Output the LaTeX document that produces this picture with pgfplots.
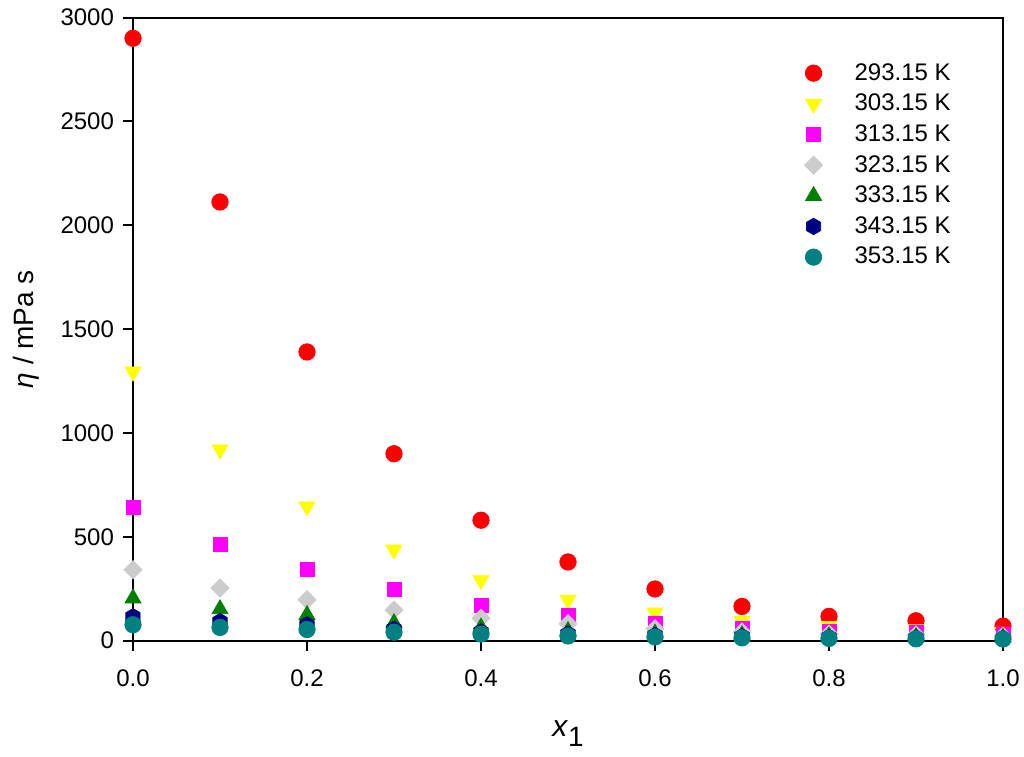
\documentclass[border=0pt]{standalone}
\usepackage{fontspec}
\setmainfont{Liberation Sans}
\usepackage{pgfplots}
\pgfplotsset{compat=1.18}
\definecolor{cgray}{RGB}{204,204,204}
\definecolor{cgreen}{RGB}{0,128,0}
\definecolor{cnavy}{RGB}{0,0,128}
\definecolor{cteal}{RGB}{0,128,128}
\definecolor{cmag}{RGB}{255,0,255}
\definecolor{cyel}{RGB}{255,255,0}
\definecolor{cred}{RGB}{255,0,0}
\pgfdeclareplotmark{hexagon*}{%
  \pgfpathmoveto{\pgfqpointpolar{90}{\pgfplotmarksize}}%
  \pgfpathlineto{\pgfqpointpolar{150}{\pgfplotmarksize}}%
  \pgfpathlineto{\pgfqpointpolar{210}{\pgfplotmarksize}}%
  \pgfpathlineto{\pgfqpointpolar{270}{\pgfplotmarksize}}%
  \pgfpathlineto{\pgfqpointpolar{330}{\pgfplotmarksize}}%
  \pgfpathlineto{\pgfqpointpolar{30}{\pgfplotmarksize}}%
  \pgfpathclose
  \pgfusepathqfillstroke
}
\begin{document}
\begin{tikzpicture}[font=\fontsize{12}{14.4}\selectfont]
\begin{axis}[
  at={(0,0)}, anchor=south west,
  scale only axis, width=435pt, height=311.6pt,
  xmin=0, xmax=1, ymin=0, ymax=3000,
  xtick={0,0.2,0.4,0.6,0.8,1},
  ytick={0,500,1000,1500,2000,2500,3000},
  minor tick num=0,
  scaled ticks=false,
  tick align=outside, tick pos=left, major tick length=5pt,
  tick style={black, line width=1pt},
  axis line style={line width=1pt},
  /pgf/number format/assume math mode=true,
  xticklabel style={yshift=-6pt, /pgf/number format/.cd, fixed, fixed zerofill, precision=1},
  yticklabel style={xshift=-1pt, /pgf/number format/.cd, fixed, precision=0, 1000 sep={}},
  xlabel={{\fontsize{15}{18}\selectfont\textit{x}\raisebox{-4.7pt}{\fontsize{14}{16}\selectfont 1}}},
  ylabel={{\fontsize{14}{16.8}\selectfont\textit{η} / mPa s}},
  every axis x label/.style={at={(axis description cs:0.5,-0.154)}, anchor=base},
  every axis y label/.style={at={(axis description cs:-0.1138,0.5)}, rotate=90, anchor=base},
  clip=false,
  legend style={draw=none, fill=none, at={(rel axis cs:0.7645,0.940)}, anchor=north west,
    row sep=1.45pt,
    /tikz/every odd column/.append style={column sep=14pt}},
  legend cell align=left,
]
\addplot[only marks, mark=*, color=cred, mark size=4.1pt]
  coordinates {(0,2900)(0.1,2112)(0.2,1390)(0.3,900)(0.4,580)(0.5,379)(0.6,249)(0.7,165)(0.8,117)(0.9,96)(1.0,70)};
\addlegendentry{293.15 K}
\addplot[only marks, mark=triangle*, color=cyel, mark size=4.6pt, mark options={rotate=180}]
  coordinates {(0,1295)(0.1,920)(0.2,646)(0.3,438)(0.4,291)(0.5,196)(0.6,135)(0.7,95)(0.8,70)(0.9,55)(1.0,43)};
\addlegendentry{303.15 K}
\addplot[only marks, mark=square*, color=cmag, mark size=3.5pt]
  coordinates {(0,642)(0.1,462)(0.2,342)(0.3,245)(0.4,170)(0.5,120)(0.6,82)(0.7,59)(0.8,47)(0.9,39)(1.0,32)};
\addlegendentry{313.15 K}
\addplot[only marks, mark=square*, color=cgray, mark size=3.2pt, mark options={rotate=45}]
  coordinates {(0,342)(0.1,254)(0.2,197)(0.3,148)(0.4,108)(0.5,82)(0.6,57)(0.7,42)(0.8,32)(0.9,27)(1.0,22)};
\addlegendentry{323.15 K}
\addplot[only marks, mark=triangle*, color=cgreen, mark size=4.6pt]
  coordinates {(0,204)(0.1,152)(0.2,124)(0.3,85)(0.4,64)(0.5,47)(0.6,35)(0.7,27)(0.8,21)(0.9,18)(1.0,15)};
\addlegendentry{333.15 K}
\addplot[only marks, mark=hexagon*, color=cnavy, mark size=4.1pt]
  coordinates {(0,115)(0.1,92)(0.2,76)(0.3,55)(0.4,42)(0.5,32)(0.6,25)(0.7,20)(0.8,16)(0.9,13)(1.0,11)};
\addlegendentry{343.15 K}
\addplot[only marks, mark=*, color=cteal, mark size=4.1pt]
  coordinates {(0,77)(0.1,64)(0.2,54)(0.3,41)(0.4,32)(0.5,23)(0.6,18)(0.7,14)(0.8,11)(0.9,9)(1.0,8)};
\addlegendentry{353.15 K}
\end{axis}
\pgfresetboundingbox
\useasboundingbox (-66.5pt,-58pt) rectangle (445.5pt,320.35pt);
\end{tikzpicture}
\end{document}
